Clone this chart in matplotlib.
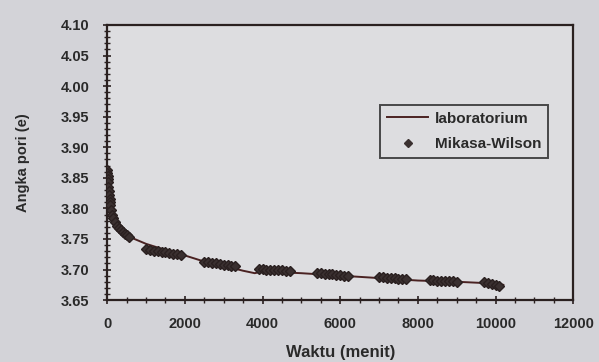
import matplotlib
matplotlib.use("Agg")
import matplotlib.pyplot as plt
from matplotlib.ticker import MultipleLocator
from matplotlib.lines import Line2D

# Laboratory curve
lab_t = [0, 20, 50, 80, 100, 150, 200, 300, 400, 500, 700, 1000, 1500, 2000,
         2500, 3000, 3500, 3800, 4000, 5000, 6000, 7000, 8000, 9000, 10000, 10200]
lab_e = [3.865, 3.845, 3.82, 3.805, 3.795, 3.785, 3.778, 3.768, 3.762, 3.757,
         3.750, 3.742, 3.732, 3.723, 3.713, 3.706, 3.698, 3.694, 3.697, 3.694,
         3.690, 3.686, 3.682, 3.680, 3.677, 3.675]

# Mikasa-Wilson points
mw_t = [0, 5, 10, 15, 20, 30, 40, 50, 60, 70, 80, 100, 120, 150, 200, 250, 300,
        350, 400, 450, 500, 550,
        1000, 1100, 1200, 1300, 1400, 1500, 1600, 1700, 1800, 1900,
        2500, 2600, 2700, 2800, 2900, 3000, 3100, 3200, 3300,
        3900, 4000, 4100, 4200, 4300, 4400, 4500, 4600, 4700,
        5400, 5500, 5600, 5700, 5800, 5900, 6000, 6100, 6200,
        7000, 7100, 7200, 7300, 7400, 7500, 7600, 7700,
        8300, 8400, 8500, 8600, 8700, 8800, 8900, 9000,
        9700, 9800, 9900, 10000, 10100]
mw_e = [3.862, 3.858, 3.853, 3.848, 3.843, 3.835, 3.828, 3.822, 3.815, 3.810,
        3.805, 3.797, 3.790, 3.785, 3.778, 3.772, 3.768, 3.764, 3.761, 3.758,
        3.756, 3.754,
        3.733, 3.732, 3.731, 3.730, 3.729, 3.728, 3.727, 3.726, 3.725, 3.724,
        3.713, 3.712, 3.711, 3.710, 3.709, 3.708, 3.707, 3.706, 3.705,
        3.701, 3.701, 3.700, 3.700, 3.700, 3.699, 3.699, 3.698, 3.697,
        3.694, 3.694, 3.693, 3.692, 3.692, 3.691, 3.691, 3.690, 3.690,
        3.687, 3.687, 3.686, 3.686, 3.686, 3.685, 3.685, 3.684,
        3.683, 3.683, 3.682, 3.682, 3.682, 3.681, 3.681, 3.680,
        3.679, 3.678, 3.677, 3.675, 3.673]

x_ticks = [0, 2000, 4000, 6000, 8000, 10000, 12000]
y_ticks = [3.65, 3.70, 3.75, 3.80, 3.85, 3.90, 3.95, 4.00, 4.05, 4.10]

plt.rcParams['font.family'] = ['Liberation Sans', 'DejaVu Sans']

fig = plt.figure(figsize=(5.99, 3.62), dpi=100)
fig.patch.set_facecolor('#d3d3d8')
ax = fig.add_axes([0.179, 0.171, 0.778, 0.76])
ax.set_facecolor('#dddde0')

line_col = '#4a2222'
mk_col = '#3a3030'
ax.plot(lab_t, lab_e, color=line_col, lw=1.4, zorder=2)
ax.plot(mw_t, mw_e, linestyle='none', marker='D', markersize=5.5,
        color=mk_col, markeredgecolor='#2a2020', zorder=3)

ax.set_xlim(0, 12000)
ax.set_ylim(3.65, 4.10)
ax.set_xticks(x_ticks)
ax.set_xticklabels([str(v) for v in x_ticks])
ax.set_yticks(y_ticks)
ax.set_yticklabels([f"{v:.2f}" for v in y_ticks])
ax.xaxis.set_minor_locator(MultipleLocator(500))
ax.yaxis.set_minor_locator(MultipleLocator(0.01))
ax.tick_params(which='major', direction='inout', length=6, width=1.2,
               color='#2a2020', labelsize=10.5, labelcolor='#2a2a2a')
ax.tick_params(axis='y', which='major', pad=10)
ax.tick_params(axis='x', which='major', pad=9)
ax.tick_params(which='minor', direction='inout', length=4, width=1,
               color='#2a2020')
for lab in ax.get_xticklabels() + ax.get_yticklabels():
    lab.set_fontweight('bold')
for s in ax.spines.values():
    s.set_color('#2a2020')
    s.set_linewidth(1.6)

ax.set_xlabel('Waktu (menit)', fontsize=12, fontweight='bold', color='#2a2a2a',
              labelpad=10)
ax.set_ylabel('Angka pori (e)', fontsize=10.5, fontweight='bold', color='#2a2a2a',
              labelpad=22)

handles = [Line2D([], [], color=line_col, lw=1.4),
           Line2D([], [], linestyle='none', marker='D', markersize=4,
                  color=mk_col)]
leg = ax.legend(handles, ['laboratorium', 'Mikasa-Wilson'],
                loc='upper left', bbox_to_anchor=(0.586, 0.71),
                frameon=True, fancybox=False,
                prop={'weight': 'bold', 'size': 11},
                borderpad=0.45, labelspacing=0.75, handlelength=2.7,
                handletextpad=0.4, borderaxespad=0.0,
                edgecolor='#222222', facecolor='#dddde0')
leg.get_frame().set_linewidth(1.4)
for t in leg.get_texts():
    t.set_color('#2a2a2a')

fig.savefig('out.png', dpi=100, facecolor=fig.get_facecolor())
